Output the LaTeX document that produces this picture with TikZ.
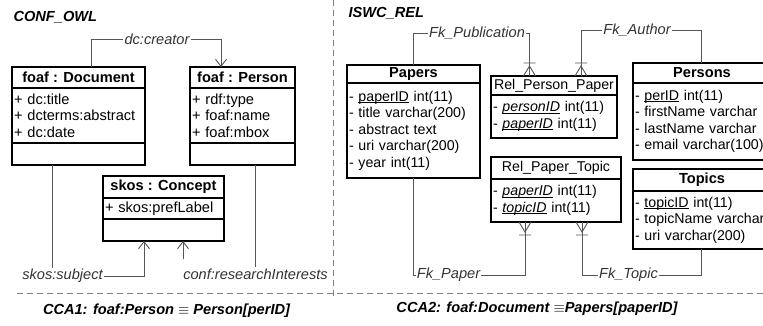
\documentclass[tikz,border=0pt]{standalone}
\usepackage{fontspec}
\setmainfont{Liberation Sans}
\usepackage{tikz}
\usetikzlibrary{positioning,arrows.meta}
\newcommand{\dsize}{\fontsize{14.6}{16.7}\selectfont}
\newcommand{\tsize}{\fontsize{14.2}{16.5}\selectfont}
\newcommand{\keyul}[1]{\setbox0\hbox{#1}\rlap{\rule[-1.6pt]{\wd0}{0.7pt}}\box0\relax}
\definecolor{linegray}{HTML}{555555}
\definecolor{labgray}{HTML}{333333}

\begin{document}
\begin{tikzpicture}[
   x=1pt,y=-1pt,
   font=\dsize,
   >={Straight Barb[length=7pt,width=11pt]},
   box/.style={draw,line width=1.1pt,outer sep=0pt,inner xsep=2pt,inner ysep=0pt},
   hdr/.style={box,font=\dsize\bfseries,anchor=north},
   thdr/.style={box,font=\tsize,anchor=north},
   att/.style={box,font=\dsize,align=left},
   tatt/.style={box,font=\tsize,align=left},
   conn/.style={draw=linegray,line width=0.9pt},
   lbl/.style={font=\dsize\itshape,text=labgray,inner sep=1pt},
   title/.style={font=\dsize\bfseries\itshape},
   divider/.style={draw=gray,line width=0.9pt,dash pattern=on 6pt off 4pt},
   crowfoot/.pic={\draw[conn] (-6,0) -- (0,-10) -- (6,0) (-6,-13) -- (6,-13);}]
\useasboundingbox (0,0) rectangle (763,325);
\clip (0,0) rectangle (763,325);

\node[title,anchor=west] (conf) at (10,17) {CONF\_OWL};
\node[title,anchor=west] (iswc) at (345,13) {ISWC\_REL};
\draw[divider] (333,0) -- (333,298);
\draw[divider] (17,293) -- (763,293);

\node[hdr,minimum width=133pt,minimum height=21pt] (doch) at (78.5,67) {foaf : Document};
\node[att,text width=129pt,minimum height=55pt,below=0pt of doch] (doca) {+ dc:title\\+ dcterms:abstract\\+ dc:date};
\node[att,minimum width=133pt,minimum height=22pt,below=0pt of doca] (doco) {};

\node[hdr,minimum width=105pt,minimum height=21pt] (perh) at (242.5,67) {foaf : Person};
\node[att,text width=101pt,minimum height=55pt,below=0pt of perh] (pera) {+ rdf:type\\+ foaf:name\\+ foaf:mbox};
\node[att,minimum width=105pt,minimum height=22pt,below=0pt of pera] (pero) {};

\node[hdr,minimum width=121pt,minimum height=22pt] (conh) at (163.5,176) {skos : Concept};
\node[att,text width=117pt,minimum height=21pt,below=0pt of conh] (cona) {+ skos:prefLabel};
\node[att,minimum width=121pt,minimum height=22pt,below=0pt of cona] (cono) {};

\node[lbl] (lcreator) at (157,39) {dc:creator};
\draw[conn] ([xshift=12.5pt]doch.north) |- (lcreator.west);
\draw[conn,->] (lcreator.east) -| ([xshift=-21.5pt]perh.north);
\node[lbl] (lsubj) at (62.5,276) {skos:subject};
\draw[conn] ([xshift=-26.5pt]doco.south) -- ([xshift=-26.5pt]doco.south |- lsubj.north);
\draw[conn,->] (lsubj.east) -| ([xshift=-19.5pt]cono.south);
\node[lbl] (lri) at (255.5,274) {conf:researchInterests};
\draw[conn] ([xshift=12.5pt]pero.south) -- ([xshift=12.5pt]pero.south |- lri.north);
\draw[conn,->] ([xshift=19.5pt,yshift=8pt]cono.south |- lri.north) -- ([xshift=19.5pt]cono.south);

\node[hdr,minimum width=133pt,minimum height=18pt] (papersh) at (413.5,65) {Papers};
\node[tatt,text width=129pt,minimum height=95pt,below=0pt of papersh] (papersa) {- \keyul{paperID} int(11)\\- title varchar(200)\\- abstract text\\- uri varchar(200)\\- year int(11)};

\node[thdr,minimum width=126pt,minimum height=19pt] (relpph) at (554,76) {Rel\_Person\_Paper};
\node[tatt,text width=122pt,minimum height=43pt,below=0pt of relpph] (relppa) {- \keyul{\textit{personID}} int(11)\\- \keyul{\textit{paperID}} int(11)};

\node[hdr,minimum width=138pt,minimum height=20pt] (personsh) at (702,63) {Persons};
\node[tatt,text width=134pt,minimum height=77pt,below=0pt of personsh] (personsa) {- \keyul{perID} int(11)\\- firstName varchar\\- lastName varchar\\- email varchar(100)};

\node[thdr,minimum width=130pt,minimum height=22pt] (relpth) at (556,157) {Rel\_Paper\_Topic};
\node[tatt,text width=126pt,minimum height=43pt,below=0pt of relpth] (relpta) {- \keyul{\textit{paperID}} int(11)\\- \keyul{\textit{topicID}} int(11)};

\node[hdr,minimum width=138pt,minimum height=22pt] (topicsh) at (702,169) {Topics};
\node[tatt,text width=134pt,minimum height=58pt,below=0pt of topicsh] (topicsa) {- \keyul{topicID} int(11)\\- topicName varchar\\- uri varchar(200)};

\node[lbl] (lpub) at (477,33) {Fk\_Publication};
\draw[conn] ([xshift=-0.5pt]papersh.north) |- (lpub.west);
\draw[conn] (lpub.east) -| ([xshift=-24.5pt]relpph.north);
\path ([xshift=-24.5pt]relpph.north) pic {crowfoot};
\node[lbl] (lauth) at (637,30) {Fk\_Author};
\draw[conn] ([xshift=-1pt]personsh.north) |- (lauth.east);
\draw[conn] (lauth.west) -| ([xshift=27pt]relpph.north);
\path ([xshift=27pt]relpph.north) pic {crowfoot};
\node[lbl] (lpaper) at (448.5,275) {Fk\_Paper};
\draw[conn] ([xshift=-0.5pt]papersa.south) |- (lpaper.west);
\draw[conn] (lpaper.east) -| ([xshift=-31pt]relpta.south);
\path ([xshift=-31pt]relpta.south) pic[yscale=-1] {crowfoot};
\node[lbl] (ltopic) at (628.5,275) {Fk\_Topic};
\draw[conn] ([xshift=-1pt]topicsa.south) |- (ltopic.east);
\draw[conn] (ltopic.west) -| ([xshift=26pt]relpta.south);
\path ([xshift=26pt]relpta.south) pic[yscale=-1] {crowfoot};

\node[title] (cca1) at (166.5,311) {CCA1: foaf:Person $\equiv$ Person[perID]};
\node[title] (cca2) at (537,309) {CCA2: foaf:Document $\equiv$Papers[paperID]};
\end{tikzpicture}
\end{document}
